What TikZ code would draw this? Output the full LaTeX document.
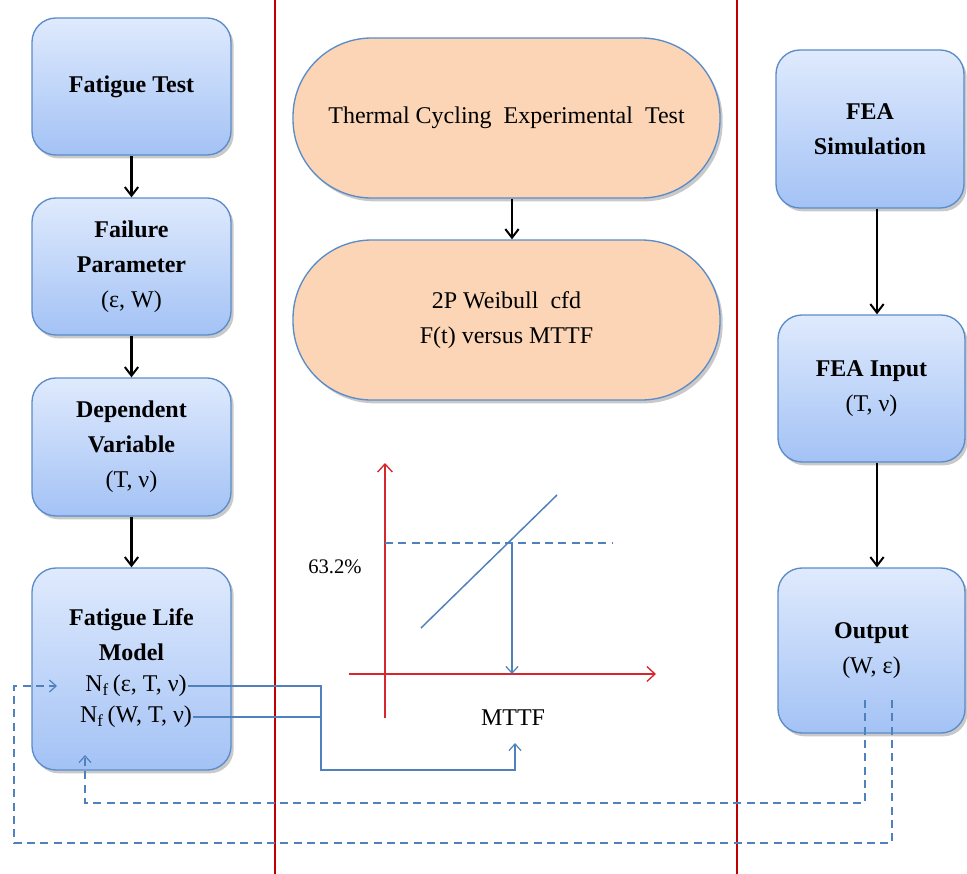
\documentclass[tikz,border=0pt]{standalone}
\usepackage{fontspec}
\setmainfont{Liberation Serif}
\usetikzlibrary{arrows.meta,shadows,calc}
\definecolor{boxtop}{HTML}{DFEAFD}
\definecolor{boxbot}{HTML}{A3C2F5}
\definecolor{boxline}{HTML}{5B8CC8}
\definecolor{orangefill}{HTML}{FBD5B5}
\definecolor{divred}{HTML}{C00000}
\definecolor{axred}{HTML}{D8262E}
\definecolor{connblue}{HTML}{4F81BD}
\tikzset{
  bluebox/.style={draw=boxline, line width=1pt, rounded corners=18pt,
    top color=boxtop, bottom color=boxbot,
    drop shadow={shadow xshift=2pt, shadow yshift=-2.5pt, opacity=0.35, fill=black!60},
    align=center, font=\fontsize{18}{26.25}\selectfont\bfseries, inner sep=0pt},
  stadium/.style={draw=boxline, line width=1pt, rounded corners=59pt, fill=orangefill,
    drop shadow={shadow xshift=2pt, shadow yshift=-2.5pt, opacity=0.35, fill=black!60},
    minimum width=320.25pt, minimum height=120pt, align=center,
    font=\fontsize{18}{26.25}\selectfont, inner sep=0pt},
  plaintext/.style={align=center, font=\fontsize{18}{26.25}\selectfont, inner sep=1pt},
  blackarrow/.style={line width=1.6pt, -{Straight Barb[length=6.5pt,width=10pt,line width=1.5pt]}},
  blueconn/.style={draw=connblue, line width=1.1pt},
  bluetip/.style={-{Straight Barb[length=5pt,width=9pt,line width=0.9pt]}},
  redaxis/.style={draw=axred, line width=1.3pt, -{Straight Barb[length=6pt,width=11pt,line width=1pt]}},
  divider/.style={draw=divred, line width=2.2pt},
}
\begin{document}
\begin{tikzpicture}[x=0.75pt,y=-0.75pt]
\useasboundingbox (0,0) rectangle (967,874);
\fill[white] (0,0) rectangle (967,874);

% dividers
\draw[divider] (275,0) -- (275,874);
\draw[divider] (737,0) -- (737,874);

% left column
\node[bluebox, minimum width=149.25pt, minimum height=102.75pt] (ft) at (131.5,86.5) {Fatigue Test};
\node[bluebox, minimum width=149.25pt, minimum height=102.75pt] (fp) at (131.5,266.5) {Failure\\Parameter\\{\mdseries (ε, W)}};
\node[bluebox, minimum width=149.25pt, minimum height=103.5pt] (dv) at (131.5,447) {Dependent\\Variable\\{\mdseries (T, ν)}};
\node[bluebox, minimum width=149.25pt, minimum height=151.5pt] (flm) at (131.5,669) {};
\node[plaintext, font=\fontsize{18}{26.25}\selectfont\bfseries] (flmt) at (131.5,635) {Fatigue Life\\Model};
\node[plaintext] (nf1) at (136,686) {N\textsubscript{f}\,(ε, T, ν)};
\node[plaintext] (nf2) at (136,717) {N\textsubscript{f}\,(W, T, ν)};

\draw[blackarrow] (ft.south) -- (fp.north);
\draw[blackarrow] (fp.south) -- (dv.north);
\draw[blackarrow] (dv.south) -- (flm.north);

% middle column
\node[stadium] (tc) at (506.5,118) {Thermal Cycling\ \ Experimental\ \ Test};
\node[stadium] (wb) at (506.5,320) {2P Weibull\ \ cfd\\F(t) versus MTTF};
\draw[blackarrow] (tc.south -| 512,0) -- (wb.north -| 512,0);

% graph
\coordinate (yb) at (385,718);
\coordinate (yt) at (385,463);
\coordinate (xl) at (349,674);
\coordinate (xr) at (656,674);
\coordinate (hl) at (385,543);
\coordinate (hr) at (612,543);
\coordinate (dl) at (421,628);
\coordinate (dr) at (557,495);
\coordinate (mp) at (512,543);
\coordinate (mb) at (512,674);
\draw[redaxis] (yb) -- (yt);
\draw[redaxis] (xl) -- (xr);
\draw[blueconn, dashed, dash pattern=on 6pt off 4pt] (hl) -- (hr);
\draw[blueconn] (dl) -- (dr);
\draw[blueconn, bluetip] (mp) -- (mb);
\node[plaintext, font=\fontsize{15.5}{18}\selectfont] (pct) at (335,567) {63.2\%};
\node[plaintext, inner sep=0pt] (mttf) at (513,718) {MTTF};

% right column
\node[bluebox, minimum width=141pt, minimum height=118.5pt] (fea) at (870,129) {FEA\\Simulation};
\node[bluebox, minimum width=140.25pt, minimum height=110.25pt] (fin) at (871.5,388.5) {FEA Input\\{\mdseries (T, ν)}};
\node[bluebox, minimum width=140.25pt, minimum height=123.75pt] (out) at (871.5,650.5) {Output\\{\mdseries (W, ε)}};
\draw[blackarrow] (fea.south -| 877,0) -- (fin.north -| 877,0);
\draw[blackarrow] (fin.south -| 877,0) -- (out.north -| 877,0);

% solid connector from Nf lines to MTTF
\coordinate (j) at (321,770);
\coordinate (mtip) at (515,743);
\draw[blueconn] (nf2.east) -- (nf2.east -| j);
\draw[blueconn, bluetip] (nf1.east) -| (j) -| (mtip);

% dashed feedback connectors
\coordinate (o1) at (865,700);
\coordinate (o2) at (892,700);
\coordinate (c1) at (85,803);
\coordinate (t1) at (85,755);
\coordinate (c2) at (14,843);
\coordinate (t2) at (57,686);
\draw[blueconn, dashed, dash pattern=on 6pt off 4pt, bluetip] (o1) |- (c1) -- (t1);
\draw[blueconn, dashed, dash pattern=on 6pt off 4pt, bluetip] (o2) |- (c2) |- (t2);
\end{tikzpicture}
\end{document}
